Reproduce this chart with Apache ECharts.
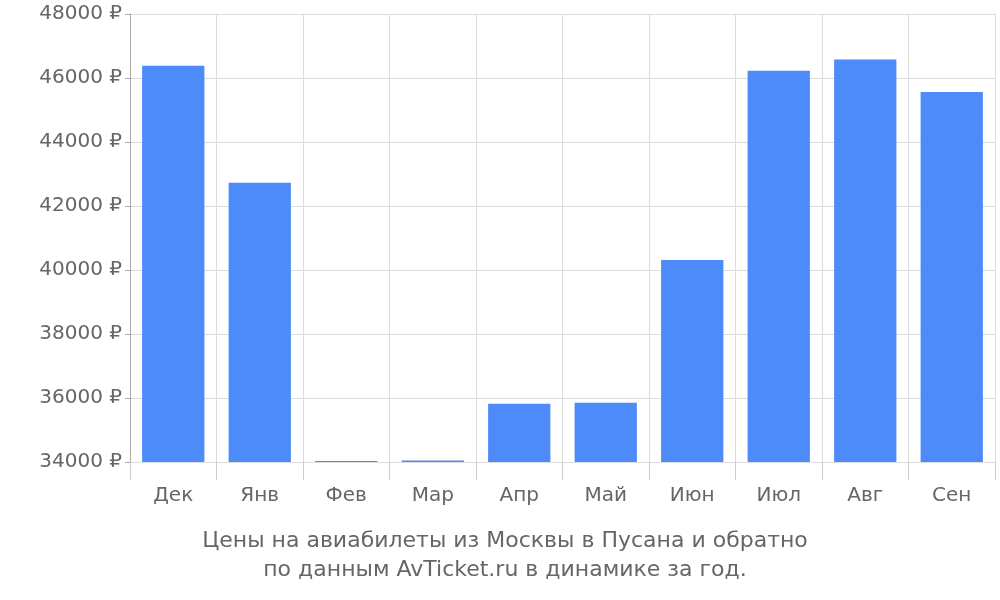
<!DOCTYPE html>
<html><head><meta charset="utf-8">
<script src="https://cdn.jsdelivr.net/npm/echarts@6/dist/echarts.min.js"></script>
<style>html,body{margin:0;padding:0;background:#fff}#c{width:1000px;height:600px}</style>
</head><body><div id="c"></div>
<script>
const categories = ['Дек','Янв','Фев','Мар','Апр','Май','Июн','Июл','Авг','Сен'];
const prices = [46380, 42730, 34030, 34050, 35820, 35850, 40310, 46230, 46580, 45560];
const yTicks = {min: 34000, max: 48000, interval: 2000};
const chart = echarts.init(document.getElementById('c'));
chart.setOption({
  animation: false,
  title: {
    text: 'Цены на авиабилеты из Москвы в Пусана и обратно\nпо данным AvTicket.ru в динамике за год.',
    left: 500, textAlign: 'center', bottom: 10,
    textStyle: {color: '#666', fontSize: 22, fontWeight: 'normal', fontFamily: 'DejaVu Sans', lineHeight: 29}
  },
  grid: {left: 130, right: 5, top: 14, bottom: 138},
  xAxis: {
    type: 'category', data: categories,
    axisLine: {show: false},
    axisTick: {show: true, length: 18, lineStyle: {color: '#ccc'}},
    splitLine: {show: true, lineStyle: {color: '#ddd'}},
    axisLabel: {color: '#666', fontSize: 20, fontFamily: 'DejaVu Sans', margin: 24}
  },
  yAxis: {
    type: 'value', min: yTicks.min, max: yTicks.max, interval: yTicks.interval,
    axisLine: {show: true, lineStyle: {color: '#aaa'}},
    axisTick: {show: true, length: 5, lineStyle: {color: '#aaa'}},
    splitLine: {lineStyle: {color: '#ddd'}},
    axisLabel: {color: '#666', fontSize: 20, fontFamily: 'DejaVu Sans', formatter: v => v + ' ₽', margin: 8}
  },
  series: [{type: 'bar', data: prices, barWidth: '72%', itemStyle: {color: '#4d8afa'}}]
});
</script></body></html>
